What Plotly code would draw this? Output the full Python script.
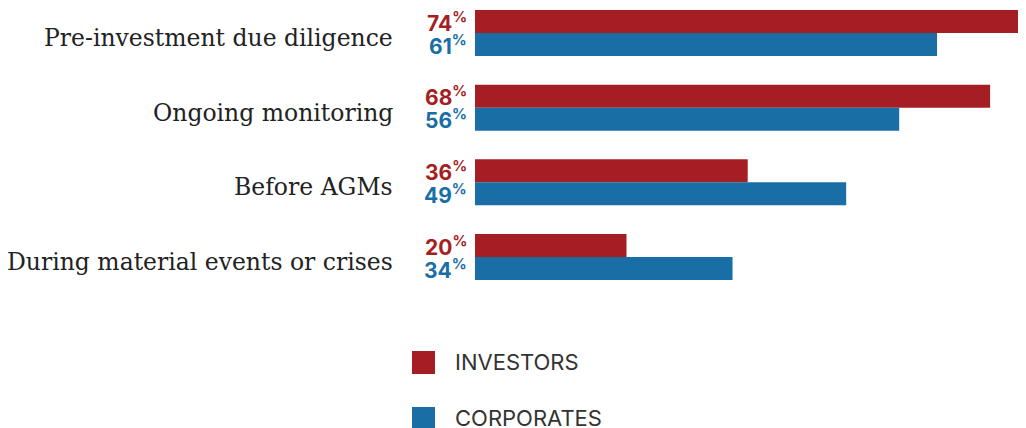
import plotly.graph_objects as go

categories = ["Pre-investment due diligence", "Ongoing monitoring", "Before AGMs",
              "During material events or crises"]
investors = [74, 68, 36, 20]
corporates = [61, 56, 49, 34]
series_names = ["INVESTORS", "CORPORATES"]

RED = "#a51e24"
BLUE = "#1a6ea6"

W, H = 1018, 420          # page adds 8px body margin
PLOT_L, PLOT_H = 467, 300

fig = go.Figure()
fig.add_trace(go.Bar(y=categories, x=investors, orientation="h", name=series_names[0],
                     marker=dict(color=RED, line=dict(width=0)), showlegend=False))
fig.add_trace(go.Bar(y=categories, x=corporates, orientation="h", name=series_names[1],
                     marker=dict(color=BLUE, line=dict(width=0)), showlegend=False))

for cat, vi, vc in zip(categories, investors, corporates):
    # category label
    fig.add_annotation(x=0, y=cat, xref="x", yref="y", xanchor="right", yanchor="middle",
                       xshift=-80, yshift=-5, showarrow=False, text=cat,
                       font=dict(family="DejaVu Serif, serif", size=23.5, color="#222222"))
    # value labels left of bars
    for v, col, dy in ((vi, RED, 11.5), (vc, BLUE, -11.5)):
        fig.add_annotation(x=0, y=cat, xref="x", yref="y", xanchor="right", yanchor="middle",
                           xshift=-6, yshift=dy, showarrow=False,
                           text=f"<b>{v}</b><sup><b>%</b></sup>",
                           font=dict(family="Inter, Roboto, sans-serif", size=21, color=col))

# manual legend with large squares
pw = W - PLOT_L
for i, (name, col) in enumerate(zip(series_names, [RED, BLUE])):
    top = 343 + i * 56
    fig.add_shape(type="rect", xref="paper", yref="paper",
                  x0=(404 - PLOT_L) / pw, x1=(427 - PLOT_L) / pw,
                  y0=-(top + 23 - PLOT_H) / PLOT_H, y1=-(top - PLOT_H) / PLOT_H,
                  fillcolor=col, line=dict(width=0))
    fig.add_annotation(xref="paper", yref="paper", x=(445 - PLOT_L) / pw,
                       y=-(top + 11 - PLOT_H) / PLOT_H, xanchor="left", yanchor="middle",
                       showarrow=False, text=name,
                       font=dict(family="Inter, sans-serif", size=22, color="#333333"))

fig.update_layout(
    width=W, height=H,
    margin=dict(l=PLOT_L, r=0, t=0, b=H - PLOT_H, pad=0),
    paper_bgcolor="white", plot_bgcolor="white",
    barmode="group", bargap=0.384, bargroupgap=0,
    xaxis=dict(range=[0, 72.74], visible=False, fixedrange=True),
    yaxis=dict(type="category", range=[3.683, -0.335], showgrid=False, zeroline=False,
               showline=False, ticks="", showticklabels=False),
)

fig.write_html("out.html")
